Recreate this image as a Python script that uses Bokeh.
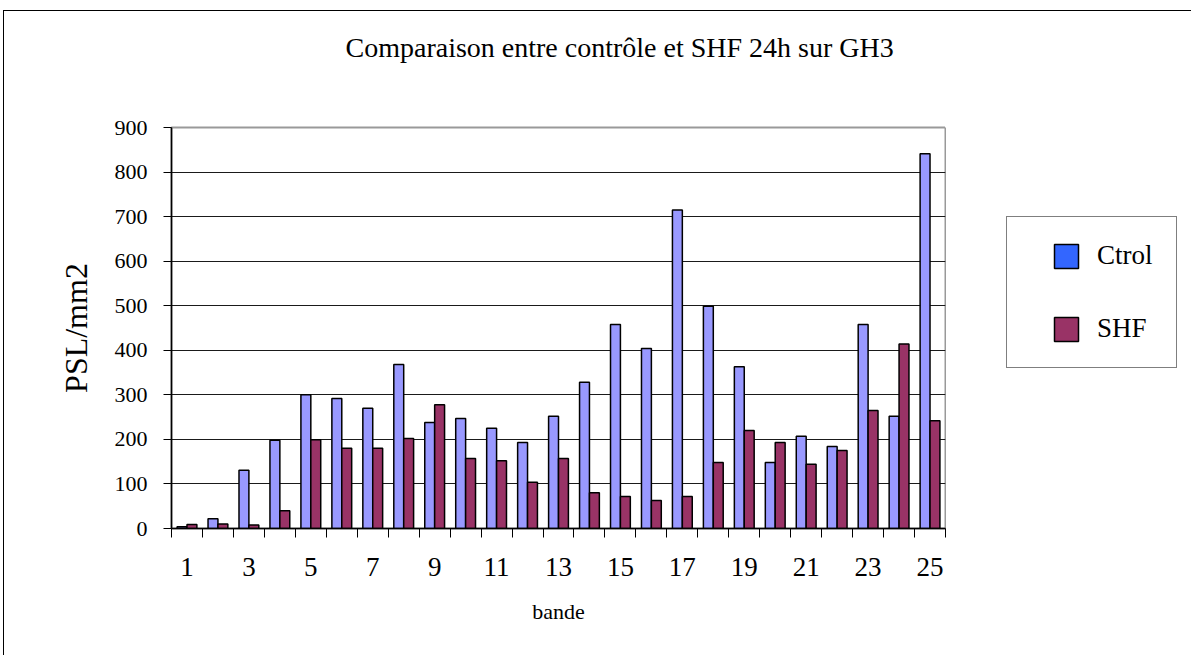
from bokeh.plotting import figure
from bokeh.layouts import row
from bokeh.models import (Range1d, FixedTicker, Legend, LegendItem, ColumnDataSource,
                          LinearAxis, Title)
from bokeh.transform import dodge
from bokeh.embed import file_html
from bokeh.resources import INLINE

# ---- data ----
bands = list(range(1, 26))
ctrol = [4, 22, 131, 198, 300, 292, 270, 368, 238, 247, 225, 193, 252, 328,
         458, 404, 715, 499, 363, 148, 207, 184, 458, 252, 841]
shf = [9, 10, 8, 40, 199, 180, 180, 202, 278, 157, 152, 104, 157, 80,
       72, 63, 72, 148, 220, 193, 144, 175, 265, 414, 242]
y_ticks = [0, 100, 200, 300, 400, 500, 600, 700, 800, 900]
x_tick_labels = [1, 3, 5, 7, 9, 11, 13, 15, 17, 19, 21, 23, 25]
title_text = "Comparaison entre contrôle et SHF 24h sur GH3"
series_names = ["Ctrol", "SHF"]
bar_colors = ["#9999FF", "#993366"]
legend_colors = ["#3366FF", "#993366"]

FONT = "Liberation Serif"

src = ColumnDataSource(dict(band=bands, ctrol=ctrol, shf=shf))

p = figure(width=946, height=655, output_backend="svg", toolbar_location=None,
           x_range=Range1d(0.5, 25.5), y_range=Range1d(0, 900),
           min_border_left=171, min_border_right=1,
           min_border_top=127, min_border_bottom=127)
p.title_location = None
p.border_fill_color = None
p.background_fill_color = "white"
p.outline_line_color = "#999999"
p.outline_line_width = 2

# invisible (white) spacer axis between plot area and title
spacer = LinearAxis(ticker=FixedTicker(ticks=[25.5], minor_ticks=[]),
                    axis_line_color=None, major_tick_line_color="white",
                    major_tick_line_width=1, minor_tick_line_color=None,
                    major_tick_out=60, major_tick_in=0,
                    minor_tick_out=0, minor_tick_in=0,
                    major_label_overrides={25.5: ""}, major_label_standoff=0,
                    major_label_text_color="white")
p.add_layout(spacer, "above")

# title (outside the spacer)
title = Title(text=title_text, align="left", offset=174, standoff=10,
              text_font=FONT, text_font_size="28px", text_font_style="normal",
              text_color="black")
p.add_layout(title, "above")

p.vbar(x=dodge("band", -0.16, range=p.x_range), top="ctrol", bottom=0, width=0.32,
       source=src, fill_color=bar_colors[0], line_color="black", line_width=1.5)
p.vbar(x=dodge("band", 0.16, range=p.x_range), top="shf", bottom=0, width=0.32,
       source=src, fill_color=bar_colors[1], line_color="black", line_width=1.5)

# grid
p.xgrid.visible = False
p.ygrid.ticker = FixedTicker(ticks=y_ticks[1:-1])
p.ygrid.grid_line_color = "#1a1a1a"
p.ygrid.grid_line_width = 1

# x axis
xa = p.below[0]
xa.ticker = FixedTicker(ticks=x_tick_labels, minor_ticks=[b - 0.5 for b in bands] + [25.5])
xa.major_tick_line_color = None
xa.minor_tick_line_color = "black"
xa.minor_tick_out = 9
xa.minor_tick_in = 0
xa.axis_line_color = "black"
xa.axis_line_width = 1.5
xa.major_label_text_font = FONT
xa.major_label_text_font_size = "27px"
xa.major_label_text_color = "black"
xa.major_label_standoff = 20
xa.axis_label = "bande"
xa.axis_label_text_font = FONT
xa.axis_label_text_font_size = "22px"
xa.axis_label_text_font_style = "normal"
xa.axis_label_text_color = "black"
xa.axis_label_standoff = 20

# y axis
ya = p.left[0]
ya.ticker = FixedTicker(ticks=y_ticks, minor_ticks=[])
ya.major_tick_out = 8
ya.major_tick_in = 0
ya.major_tick_line_color = "black"
ya.axis_line_color = "black"
ya.axis_line_width = 1.5
ya.major_label_text_font = FONT
ya.major_label_text_font_size = "22px"
ya.major_label_text_color = "black"
ya.major_label_standoff = 16
ya.axis_label = "PSL/mm2"
ya.axis_label_text_font = FONT
ya.axis_label_text_font_size = "32px"
ya.axis_label_text_font_style = "normal"
ya.axis_label_text_color = "black"
ya.axis_label_standoff = 18

# legend panel (separate, axis-less figure to the right of the plot area)
p2 = figure(width=245, height=655, output_backend="svg", toolbar_location=None,
            x_range=Range1d(0, 1), y_range=Range1d(0, 1),
            x_axis_location=None, y_axis_location=None,
            min_border_left=0, min_border_right=0,
            min_border_top=0, min_border_bottom=0)
p2.grid.visible = False
p2.outline_line_color = None
p2.background_fill_color = None
p2.border_fill_color = None

# legend-only renderers, hidden behind the legend box
r_c = p2.vbar(x=[0.5], top=[0.6], bottom=[0.55], width=0.05, fill_color=legend_colors[0],
              line_color="black", line_width=1.5)
r_s = p2.vbar(x=[0.5], top=[0.6], bottom=[0.55], width=0.05, fill_color=legend_colors[1],
              line_color="black", line_width=1.5)
legend = Legend(items=[LegendItem(label=series_names[0], renderers=[r_c]),
                       LegendItem(label=series_names[1], renderers=[r_s])],
                location=(60, 160), orientation="vertical",
                title=" ", title_location="left", title_text_font_size="10px",
                title_standoff=10,
                glyph_width=30, glyph_height=30, label_height=30, spacing=42,
                padding=23, margin=0, border_line_color="black",
                border_line_width=1.5, background_fill_color="white",
                background_fill_alpha=1.0, label_standoff=16,
                label_text_font=FONT, label_text_font_size="27px",
                label_text_color="black")
p2.add_layout(legend)

layout = row(p, p2, spacing=0)
layout.styles = {"box-shadow": "inset 3px 10px 0 0 #ffffff, inset 4px 11px 0 0 #000000"}

open("out.html", "w").write(file_html(layout, INLINE))
